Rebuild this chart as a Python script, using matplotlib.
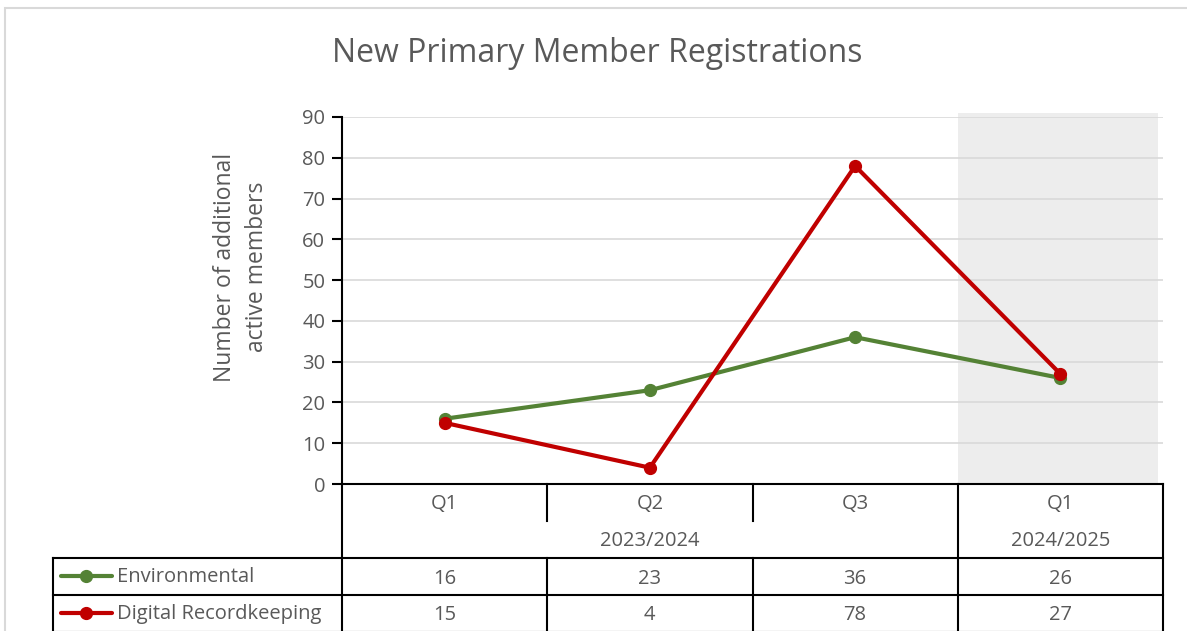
import matplotlib.pyplot as plt
from matplotlib.lines import Line2D
from matplotlib.patches import Rectangle

# данные
quarters = ["Q1", "Q2", "Q3", "Q1"]
years = ["2023/2024", "2024/2025"]
year_spans = [(0, 2), (3, 3)]  # индексы первой и последней категории
environmental = [16, 23, 36, 26]
digital = [15, 4, 78, 27]
series_names = ["Environmental", "Digital Recordkeeping"]

green = "#548235"
red = "#C00000"
txt = "#595959"
fs = 14.5
plt.rcParams['font.family'] = ['Open Sans', 'DejaVu Sans']

W, H = 1187, 631
fig = plt.figure(figsize=(W / 100, H / 100), dpi=100)

# рамка диаграммы
fig.add_artist(Rectangle((4.5 / W, -0.05), 1.1, 1 - 7.5 / H + 0.05, transform=fig.transFigure,
                         fill=False, edgecolor="#D9D9D9", lw=1.5))

x0, x1, y0, y1 = 342, 1163, 484, 117
ax = fig.add_axes([x0 / W, 1 - y0 / H, (x1 - x0) / W, (y0 - y1) / H])

x = range(len(quarters))
ax.axvspan(2.5, 3.475, ymin=0, ymax=1.011, color="#EDEDED", zorder=0, clip_on=False, lw=0)
ax.plot(x, environmental, color=green, lw=3, marker="o", ms=8.5, zorder=3,
        solid_capstyle="round", clip_on=False)
ax.plot(x, digital, color=red, lw=3, marker="o", ms=8.5, zorder=4,
        solid_capstyle="round", clip_on=False)

ax.set_xlim(-0.5, 3.5)
ax.set_ylim(0, 90)
ax.set_yticks(range(0, 91, 10))
ax.yaxis.grid(True, color="#D9D9D9", lw=1.2)
ax.set_axisbelow(True)
ax.set_xticks([])
for s in ["top", "right", "bottom"]:
    ax.spines[s].set_visible(False)
ax.spines["left"].set_color("black")
ax.spines["left"].set_linewidth(1.5)
ax.tick_params(axis="y", length=7, width=1.5, color="black", labelcolor=txt,
               labelsize=fs, pad=5)
ax.set_ylabel("Number of additional\nactive members", fontsize=16.5, color=txt,
              linespacing=1.4, va="center")
ax.yaxis.set_label_coords((241 - x0) / (x1 - x0), (y0 - 267) / (y0 - y1))

fig.text(597 / W, 1 - 53 / H, "New Primary Member Registrations", ha="center",
         va="center", fontsize=23, color=txt)

# таблица данных под осью
tr = ax.get_xaxis_transform()
rh = 37 / (y0 - y1)
dy = 2 / (y0 - y1)
kw = dict(color="black", lw=1.5, transform=tr, clip_on=False, solid_capstyle="projecting")
left_x = -0.5 - (x0 - 53) / ((x1 - x0) / 4)
ax.plot([-0.5, 3.5], [0, 0], **kw)
ax.plot([-0.5, -0.5], [0, -4 * rh], **kw)
ax.plot([3.5, 3.5], [0, -4 * rh], **kw)
ax.plot([2.5, 2.5], [0, -4 * rh], **kw)
for b in [0.5, 1.5]:
    ax.plot([b, b], [0, -rh], **kw)
    ax.plot([b, b], [-2 * rh, -4 * rh], **kw)
for r in [2, 3, 4]:
    ax.plot([left_x, 3.5], [-r * rh, -r * rh], **kw)
ax.plot([left_x, left_x], [-2 * rh, -4 * rh], **kw)

for i, q in enumerate(quarters):
    ax.text(i, -0.5 * rh - dy, q, transform=tr, ha="center", va="center", fontsize=fs, color=txt)
for (a, b), yr in zip(year_spans, years):
    ax.text((a + b) / 2, -1.5 * rh - dy, yr, transform=tr, ha="center", va="center",
            fontsize=fs, color=txt)
for r, (vals, col, name) in enumerate(zip([environmental, digital], [green, red], series_names)):
    yy = -(2.5 + r) * rh - dy
    for i, v in enumerate(vals):
        ax.text(i, yy, str(v), transform=tr, ha="center", va="center", fontsize=fs, color=txt)
    ky = 1 - (557 + 18.5 + 37 * r) / H
    fig.add_artist(Line2D([61 / W, 112 / W], [ky, ky], color=col, lw=3,
                          solid_capstyle="round", transform=fig.transFigure))
    fig.add_artist(Line2D([86 / W], [ky], color=col, marker="o", ms=8.5,
                          transform=fig.transFigure))
    fig.text(117 / W, ky - 2 / H, name, ha="left", va="center", fontsize=fs, color=txt)

fig.savefig("out.png", dpi=100)
